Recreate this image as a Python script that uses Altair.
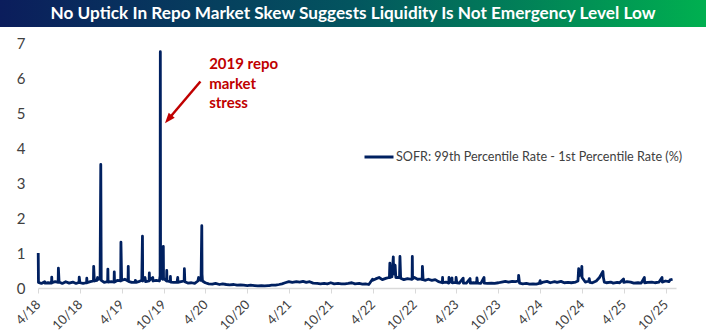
import altair as alt
import pandas as pd

TITLE = "No Uptick In Repo Market Skew Suggests Liquidity Is Not Emergency Level Low"
SERIES = "SOFR: 99th Percentile Rate - 1st Percentile Rate (%)"
tick_labels = ["4/18", "10/18", "4/19", "10/19", "4/20", "10/20", "4/21", "10/21",
               "4/22", "10/22", "4/23", "10/23", "4/24", "10/24", "4/25", "10/25"]
y_ticks = [0, 1, 2, 3, 4, 5, 6, 7]

annot_lines = ["2019 repo", "market", "stress"]
annot_at = ("2020-04-17", 6.25)
arrow_tail = ("2020-03-10", 5.90)
arrow_head = ("2019-10-22", 4.82)

y2018 = [("2018-04-02", 1.00), ("2018-04-03", 0.16), ("2018-04-16", 0.13), ("2018-04-30", 0.18),
         ("2018-05-01", 0.14), ("2018-05-15", 0.15), ("2018-05-30", 0.14), ("2018-05-31", 0.31),
         ("2018-06-01", 0.15), ("2018-06-15", 0.18), ("2018-06-28", 0.16), ("2018-06-29", 0.57),
         ("2018-07-02", 0.17), ("2018-07-16", 0.13), ("2018-07-31", 0.18), ("2018-08-15", 0.14),
         ("2018-08-31", 0.17), ("2018-09-14", 0.13), ("2018-09-27", 0.16), ("2018-09-28", 0.31),
         ("2018-10-01", 0.15), ("2018-10-15", 0.13), ("2018-10-30", 0.15), ("2018-10-31", 0.28),
         ("2018-11-01", 0.15), ("2018-11-15", 0.18), ("2018-11-29", 0.20), ("2018-11-30", 0.62),
         ("2018-12-03", 0.20), ("2018-12-14", 0.22), ("2018-12-17", 0.30), ("2018-12-20", 0.25),
         ("2018-12-28", 0.26), ("2018-12-31", 3.53)]
y2019 = [("2019-01-02", 0.22), ("2019-01-15", 0.16), ("2019-01-30", 0.18), ("2019-01-31", 0.54),
         ("2019-02-01", 0.17), ("2019-02-15", 0.18), ("2019-02-27", 0.17), ("2019-02-28", 0.46),
         ("2019-03-01", 0.17), ("2019-03-15", 0.22), ("2019-03-28", 0.20), ("2019-03-29", 1.31),
         ("2019-04-01", 0.22), ("2019-04-15", 0.25), ("2019-04-29", 0.20), ("2019-04-30", 0.62),
         ("2019-05-01", 0.19), ("2019-05-15", 0.16), ("2019-05-30", 0.17), ("2019-05-31", 0.22),
         ("2019-06-03", 0.16), ("2019-06-14", 0.18), ("2019-06-28", 0.22), ("2019-07-01", 1.48),
         ("2019-07-02", 0.20), ("2019-07-12", 0.30), ("2019-07-15", 0.18), ("2019-07-30", 0.20),
         ("2019-07-31", 0.43), ("2019-08-01", 0.22), ("2019-08-15", 0.30), ("2019-08-16", 0.20),
         ("2019-08-30", 0.22), ("2019-09-13", 0.20), ("2019-09-16", 0.35), ("2019-09-17", 6.75),
         ("2019-09-18", 0.30), ("2019-09-27", 0.25), ("2019-09-30", 1.19), ("2019-10-01", 0.28),
         ("2019-10-14", 0.20), ("2019-10-15", 0.50), ("2019-10-16", 0.20), ("2019-10-30", 0.18),
         ("2019-10-31", 0.33), ("2019-11-01", 0.17), ("2019-11-15", 0.16), ("2019-11-29", 0.17),
         ("2019-12-02", 0.30), ("2019-12-03", 0.16), ("2019-12-16", 0.18), ("2019-12-30", 0.20),
         ("2019-12-31", 0.55)]
y2020 = [("2020-01-02", 0.18), ("2020-01-15", 0.14), ("2020-01-31", 0.15), ("2020-02-14", 0.13),
         ("2020-02-28", 0.20), ("2020-03-02", 0.30), ("2020-03-10", 0.22), ("2020-03-13", 0.35),
         ("2020-03-16", 1.78), ("2020-03-17", 0.40), ("2020-03-19", 0.20), ("2020-03-31", 0.15),
         ("2020-04-15", 0.12), ("2020-05-01", 0.11), ("2020-05-15", 0.13), ("2020-06-01", 0.10),
         ("2020-06-15", 0.12), ("2020-07-01", 0.10), ("2020-07-15", 0.09), ("2020-08-03", 0.10),
         ("2020-08-17", 0.08), ("2020-09-01", 0.09), ("2020-09-15", 0.08), ("2020-10-01", 0.07),
         ("2020-10-15", 0.08), ("2020-11-02", 0.07), ("2020-11-16", 0.06), ("2020-12-01", 0.07),
         ("2020-12-15", 0.06), ("2020-12-31", 0.07)]
y2021 = [("2021-01-04", 0.07), ("2021-01-15", 0.08), ("2021-02-01", 0.08), ("2021-02-16", 0.10),
         ("2021-03-01", 0.12), ("2021-03-15", 0.15), ("2021-03-31", 0.18), ("2021-04-15", 0.16),
         ("2021-05-03", 0.18), ("2021-05-17", 0.17), ("2021-06-01", 0.19), ("2021-06-15", 0.16),
         ("2021-06-30", 0.18), ("2021-07-15", 0.14), ("2021-08-02", 0.13), ("2021-08-16", 0.12),
         ("2021-09-01", 0.13), ("2021-09-15", 0.12), ("2021-09-30", 0.15), ("2021-10-15", 0.12),
         ("2021-11-01", 0.13), ("2021-11-15", 0.12), ("2021-12-01", 0.12), ("2021-12-15", 0.13),
         ("2021-12-31", 0.15)]
y2022 = [("2022-01-14", 0.12), ("2022-02-01", 0.13), ("2022-02-15", 0.11), ("2022-03-01", 0.12),
         ("2022-03-15", 0.10), ("2022-03-31", 0.25), ("2022-04-01", 0.22), ("2022-04-14", 0.26),
         ("2022-04-29", 0.30), ("2022-05-13", 0.24), ("2022-05-31", 0.28), ("2022-06-13", 0.30),
         ("2022-06-15", 0.71), ("2022-06-16", 0.30), ("2022-06-24", 0.32), ("2022-06-30", 0.89),
         ("2022-07-01", 0.55), ("2022-07-05", 0.40), ("2022-07-08", 0.65), ("2022-07-11", 0.30),
         ("2022-07-27", 0.30), ("2022-07-29", 0.90), ("2022-08-01", 0.28), ("2022-08-15", 0.24),
         ("2022-08-31", 0.27), ("2022-09-15", 0.25), ("2022-09-20", 0.25), ("2022-09-21", 0.90),
         ("2022-09-22", 0.26), ("2022-09-30", 0.30), ("2022-10-14", 0.25), ("2022-10-31", 0.26),
         ("2022-11-03", 0.24), ("2022-11-04", 0.62), ("2022-11-07", 0.24), ("2022-11-15", 0.22),
         ("2022-11-30", 0.25), ("2022-12-15", 0.22), ("2022-12-30", 0.24)]
y2023 = [("2023-01-13", 0.18), ("2023-01-30", 0.15), ("2023-01-31", 0.30), ("2023-02-01", 0.15),
         ("2023-02-15", 0.17), ("2023-02-27", 0.14), ("2023-02-28", 0.30), ("2023-03-01", 0.15),
         ("2023-03-13", 0.29), ("2023-03-14", 0.15), ("2023-03-30", 0.16), ("2023-03-31", 0.30),
         ("2023-04-03", 0.15), ("2023-04-14", 0.14), ("2023-05-01", 0.28), ("2023-05-02", 0.14),
         ("2023-05-15", 0.14), ("2023-05-31", 0.27), ("2023-06-01", 0.14), ("2023-06-15", 0.15),
         ("2023-06-29", 0.14), ("2023-06-30", 0.29), ("2023-07-03", 0.14), ("2023-07-17", 0.13),
         ("2023-07-31", 0.30), ("2023-08-01", 0.14), ("2023-08-15", 0.13), ("2023-09-01", 0.14),
         ("2023-09-15", 0.13), ("2023-10-02", 0.15), ("2023-10-16", 0.17), ("2023-11-01", 0.19),
         ("2023-11-15", 0.17), ("2023-12-01", 0.19), ("2023-12-15", 0.18), ("2023-12-28", 0.20),
         ("2023-12-29", 0.36)]
y2024 = [("2024-01-02", 0.14), ("2024-01-16", 0.12), ("2024-02-01", 0.13), ("2024-02-15", 0.11),
         ("2024-03-01", 0.12), ("2024-03-15", 0.11), ("2024-03-28", 0.13), ("2024-04-01", 0.21),
         ("2024-04-02", 0.13), ("2024-04-15", 0.17), ("2024-05-01", 0.19), ("2024-05-15", 0.15),
         ("2024-06-03", 0.18), ("2024-06-14", 0.16), ("2024-07-01", 0.19), ("2024-07-15", 0.15),
         ("2024-08-01", 0.16), ("2024-08-15", 0.15), ("2024-09-03", 0.17), ("2024-09-13", 0.20),
         ("2024-09-16", 0.55), ("2024-09-19", 0.35), ("2024-09-27", 0.40), ("2024-09-30", 0.62),
         ("2024-10-01", 0.30), ("2024-10-15", 0.17), ("2024-10-31", 0.20), ("2024-11-01", 0.27),
         ("2024-11-04", 0.16), ("2024-11-15", 0.15), ("2024-12-02", 0.20), ("2024-12-16", 0.30),
         ("2024-12-31", 0.47)]
y2025 = [("2025-01-02", 0.30), ("2025-01-06", 0.17), ("2025-01-15", 0.15), ("2025-02-03", 0.17),
         ("2025-02-14", 0.14), ("2025-03-03", 0.16), ("2025-03-14", 0.15), ("2025-03-31", 0.26),
         ("2025-04-01", 0.16), ("2025-04-15", 0.18), ("2025-05-01", 0.17), ("2025-05-15", 0.14),
         ("2025-06-02", 0.15), ("2025-06-16", 0.14), ("2025-06-30", 0.30), ("2025-07-01", 0.15),
         ("2025-07-15", 0.16), ("2025-08-01", 0.17), ("2025-08-15", 0.15), ("2025-09-02", 0.17),
         ("2025-09-15", 0.30), ("2025-09-16", 0.17), ("2025-09-30", 0.20), ("2025-10-15", 0.18),
         ("2025-10-20", 0.23), ("2025-10-31", 0.25)]

NAVY = "#002060"
RED = "#c00000"
FONT = "Lato"
W, H = 638, 245
PAD = {"left": 38, "top": 43, "right": 30, "bottom": 48}

rows = [p for yr in (y2018, y2019, y2020, y2021, y2022, y2023, y2024, y2025) for p in yr]
df = pd.DataFrame(rows, columns=["date", "value"])
df["date"] = pd.to_datetime(df["date"])
df["series"] = SERIES

tick_dates = []
for lab in tick_labels:
    m, yy = lab.split("/")
    tick_dates.append(alt.DateTime(year=2000 + int(yy), month=int(m), date=1))

x_scale = alt.Scale(domain=[alt.DateTime(year=2018, month=4, date=1),
                            alt.DateTime(year=2025, month=11, date=15)])
y_scale = alt.Scale(domain=[0, 7], nice=False)

x_axis = alt.Axis(values=tick_dates, format="%-m/%y", labelAngle=-45,
                  labelAlign="right", labelBaseline="middle", labelPadding=9,
                  labelFont=FONT, labelFontSize=13, labelColor="#404040",
                  labelOverlap=False, labelFlush=False,
                  domainColor="#d9d9d9", domainWidth=1.5, tickColor="#d9d9d9",
                  tickSize=5, grid=False, title=None)
y_axis = alt.Axis(values=y_ticks, domain=False, ticks=False, grid=False,
                  labelOverlap=False, labelFlush=False,
                  labelFont=FONT, labelFontSize=15, labelColor="#404040",
                  labelPadding=13, title=None)

line = alt.Chart(df).mark_line(strokeWidth=2.8, strokeJoin="round").encode(
    x=alt.X("date:T", scale=x_scale, axis=x_axis),
    y=alt.Y("value:Q", scale=y_scale, axis=y_axis),
    color=alt.Color("series:N", scale=alt.Scale(range=[NAVY]),
                    legend=alt.Legend(orient="none", legendX=325, legendY=98, title=None,
                                      symbolType="stroke", symbolSize=841,
                                      symbolStrokeWidth=3, labelFont=FONT,
                                      labelFontSize=12.6, labelColor="#404040",
                                      labelOffset=1, padding=0, labelLimit=400)),
)

arrow_df = pd.DataFrame({"d0": [pd.Timestamp(arrow_tail[0])], "v0": [arrow_tail[1]],
                         "d1": [pd.Timestamp(arrow_head[0])], "v1": [arrow_head[1]]})
arrow = alt.Chart(arrow_df).mark_rule(color=RED, strokeWidth=2.5).encode(
    x=alt.X("d0:T", scale=x_scale, axis=x_axis), y=alt.Y("v0:Q", scale=y_scale, axis=y_axis),
    x2="d1:T", y2="v1:Q")
head = alt.Chart(arrow_df).mark_point(shape="M0,-1L0.75,1L-0.75,1Z", filled=True, size=110,
                                      angle=220, color=RED, opacity=1).encode(
    x=alt.X("d1:T", scale=x_scale, axis=x_axis), y=alt.Y("v1:Q", scale=y_scale, axis=y_axis))

annot_df = pd.DataFrame({"d": [pd.Timestamp(annot_at[0])], "v": [annot_at[1]],
                         "t": ["\n".join(annot_lines)]})
annot = alt.Chart(annot_df).mark_text(align="left", baseline="alphabetic", lineBreak="\n",
                                      lineHeight=19.5, font=FONT, fontSize=15,
                                      fontWeight="bold", color=RED).encode(
    x=alt.X("d:T", scale=x_scale, axis=x_axis), y=alt.Y("v:Q", scale=y_scale, axis=y_axis),
    text="t:N")

title_df = pd.DataFrame({"t": [TITLE]})
banner = alt.Chart(title_df).mark_rect(
    fill=alt.LinearGradient(gradient="linear",
                            stops=[alt.GradientStop(color="#0b1d5c", offset=0),
                                   alt.GradientStop(color="#03555f", offset=0.5),
                                   alt.GradientStop(color="#00b050", offset=1)],
                            x1=0, x2=1, y1=0, y2=0)).encode(
    x=alt.value(-PAD["left"]), x2=alt.value(W + PAD["right"]),
    y=alt.value(-PAD["top"]), y2=alt.value(-PAD["top"] + 27))
title_text = alt.Chart(title_df).mark_text(align="center", baseline="middle", font=FONT,
                                           fontSize=17.2, fontWeight="bold", color="white").encode(
    x=alt.value(353 - PAD["left"]), y=alt.value(-PAD["top"] + 14), text="t:N")

chart = alt.layer(line, arrow, head, annot, banner, title_text).properties(
    width=W, height=H, padding=PAD, autosize=alt.AutoSizeParams(type="none"),
    background="white",
).configure_view(stroke=None)

chart.save("out.html", embed_options={"renderer": "svg", "actions": False})
